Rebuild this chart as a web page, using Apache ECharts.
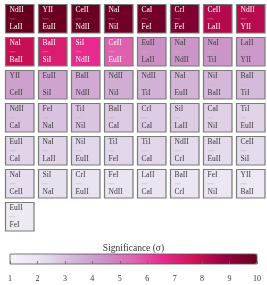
<!DOCTYPE html>
<html><head><meta charset="utf-8">
<script src="https://cdn.jsdelivr.net/npm/echarts@6/dist/echarts.min.js"></script>
<style>html,body{margin:0;padding:0;background:#fff}#c{width:267px;height:285px}</style>
</head><body><div id="c"></div>
<script>
const numerators = [
  'NdII','YII','CeII','NaI','CaI','CrI','CeII','NdII',
  'NaI','BaII','SiI','CeII','EuII','NaI','NaI','LaII',
  'YII','EuII','BaII','NdII','NdII','NaI','NiI','BaII',
  'NdII','FeI','TiI','BaII','CrI','SiI','CaI','TiI',
  'EuII','NaI','NiI','TiI','TiI','NdII','BaII','CeII',
  'NaI','SiI','CrI','FeI','LaII','BaII','FeI','YII',
  'EuII'
];
const denominators = [
  'LaII','EuII','NdII','NiI','FeI','FeI','LaII','YII',
  'BaII','SiI','NdII','EuII','LaII','NdII','TiI','YII',
  'CeII','SiI','NdII','NiI','TiI','EuII','BaII','TiI',
  'CaI','NaI','NiI','CaI','CaI','LaII','NiI','EuII',
  'CaI','LaII','EuII','FeI','CaI','CrI','EuII','SiI',
  'CeII','NaI','EuII','NdII','CaI','CrI','NiI','BaII',
  'FeI'
];
const significance = [
  10.0, 9.9, 9.9, 9.8, 9.7, 9.4, 8.3, 8.2,
  7.9, 7.2, 6.6, 5.6, 4.5, 4.3, 4.3, 4.2,
  4.0, 3.9, 3.7, 3.6, 3.5, 3.4, 3.3, 3.2,
  3.0, 3.0, 2.9, 2.8, 2.7, 2.7, 2.6, 2.5,
  2.5, 2.5, 2.4, 2.4, 2.4, 2.3, 2.3, 2.3,
  2.2, 2.1, 2.0, 1.9, 1.9, 1.8, 1.8, 1.7,
  1.6
];
const colorbarTicks = [1,2,3,4,5,6,7,8,9,10];
const NCOL = 8, NROW = 7;

const cellData = significance.map((v, i) => [i % NCOL, Math.floor(i / NCOL), v, i]);
const FONT = '"Liberation Serif", "DejaVu Serif", serif';

const chart = echarts.init(document.getElementById('c'), null, {renderer: 'canvas'});
chart.setOption({
  animation: false,
  backgroundColor: '#fff',
  title: {
    text: 'Significance (\u03c3)', left: 'center', top: 238,
    textStyle: {fontFamily: FONT, fontSize: 9.5, fontWeight: 'normal', color: '#333'}
  },
  grid: [
    {left: 3, top: 2, width: 264, height: 231},
    {left: 10, top: 254, width: 247, height: 10, show: true, borderColor: '#555', borderWidth: 0.8, backgroundColor: 'transparent', z: 10}
  ],
  xAxis: [
    {type: 'category', gridIndex: 0, data: [0,1,2,3,4,5,6,7], show: false},
    {type: 'value', gridIndex: 1, min: 1, max: 10, interval: 1, z: 11,
     axisLine: {show: false}, splitLine: {show: false},
     axisTick: {show: true, inside: true, length: 3, lineStyle: {color: '#666', width: 0.8}},
     axisLabel: {margin: 11, fontFamily: FONT, fontSize: 8, color: '#333',
       formatter: function (v) { return colorbarTicks.indexOf(v) >= 0 ? String(v) : ''; }}}
  ],
  yAxis: [
    {type: 'category', gridIndex: 0, data: [0,1,2,3,4,5,6], inverse: true, show: false},
    {type: 'value', gridIndex: 1, show: false, min: 0, max: 1}
  ],
  visualMap: {
    type: 'continuous', min: 1, max: 10, dimension: 2, seriesIndex: 0,
    orient: 'horizontal', left: 10, top: 254, itemWidth: 10, itemHeight: 247,
    padding: 0, calculable: false, hoverLink: false, text: null, showLabel: false,
    inRange: {color: ['#f7f4f9','#e7e1ef','#d4b9da','#c994c7','#df65b0','#e7298a','#ce1256','#980043','#67001f']}
  },
  series: [{
    type: 'custom',
    xAxisIndex: 0, yAxisIndex: 0,
    data: cellData,
    renderItem: function (params, api) {
      const idx = api.value(3);
      const c = api.coord([api.value(0), api.value(1)]);
      const s = api.size([1, 1]);
      const w = s[0] - 4.5, h = s[1] - 4.5;
      const x = Math.round(c[0] - w / 2) + 0.5, y = Math.round(c[1] - h / 2) + 0.5;
      const v = api.value(2);
      const dark = v > 5;
      const txt = dark ? '#ffffff' : '#3a3a3a';
      return {
        type: 'group',
        children: [
          {type: 'rect', shape: {x: x, y: y, width: w, height: h},
           style: {fill: api.visual('color'), stroke: '#7a7a7a', lineWidth: 1.2}},
          {type: 'text', x: x + 4, y: y + 2,
           style: {text: numerators[idx], fill: txt, fontFamily: FONT, fontSize: 7.5, verticalAlign: 'top', align: 'left'}},
          {type: 'line', shape: {x1: x + 4, y1: y + h / 2, x2: x + 10, y2: y + h / 2},
           style: {stroke: dark ? 'rgba(255,255,255,0.45)' : '#bdbdbd', lineWidth: 0.6}},
          {type: 'text', x: x + 4, y: y + h - 1.5,
           style: {text: denominators[idx], fill: txt, fontFamily: FONT, fontSize: 7.5, verticalAlign: 'bottom', align: 'left'}}
        ]
      };
    }
  }, {
    type: 'line', xAxisIndex: 1, yAxisIndex: 1, data: [], silent: true
  }]
});
</script></body></html>
